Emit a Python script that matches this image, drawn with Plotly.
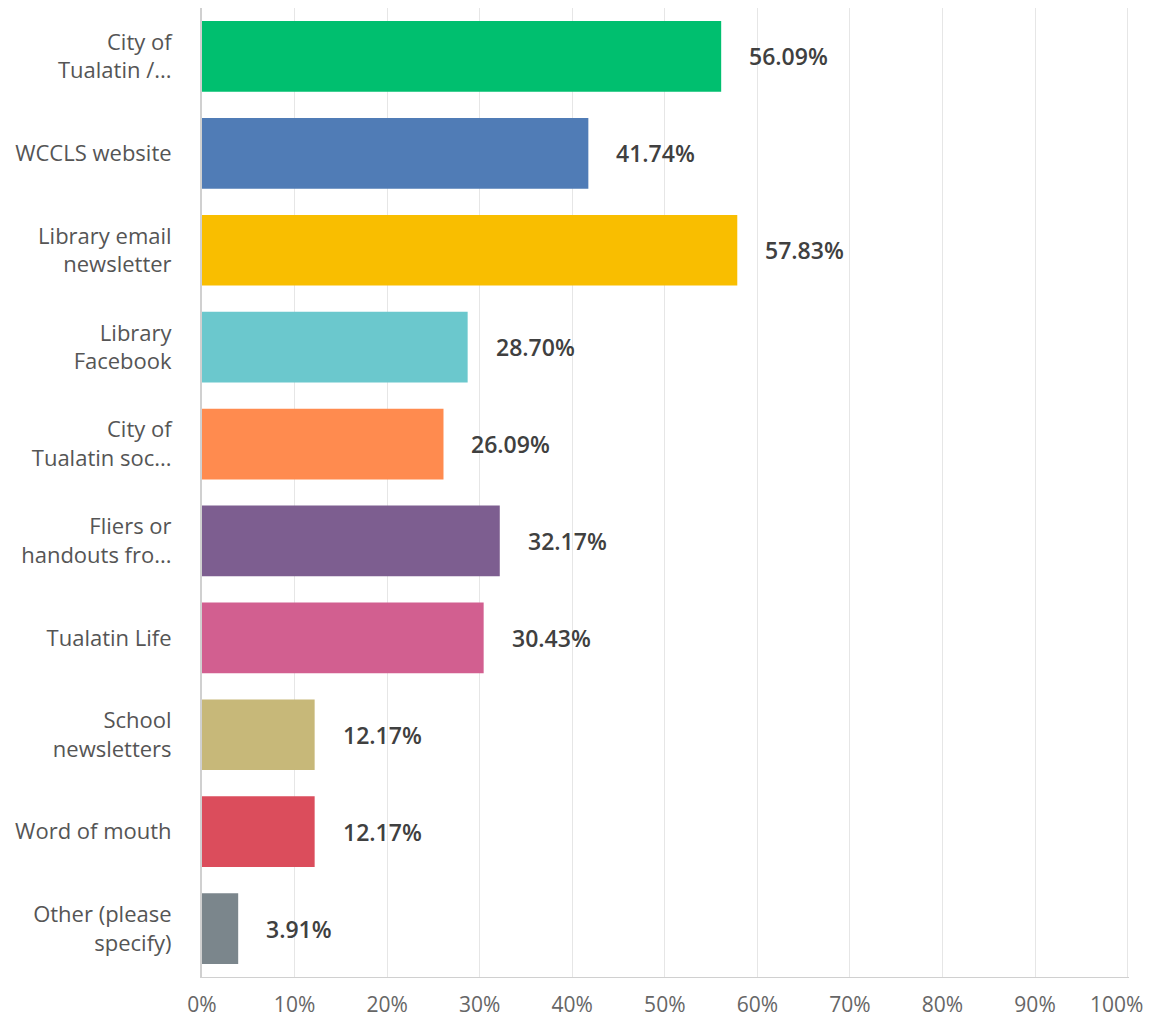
import plotly.graph_objects as go

categories = [
    "City of<br>Tualatin /...",
    "WCCLS website",
    "Library email<br>newsletter",
    "Library<br>Facebook",
    "City of<br>Tualatin soc...",
    "Fliers or<br>handouts fro...",
    "Tualatin Life",
    "School<br>newsletters",
    "Word of mouth",
    "Other (please<br>specify)",
]
values = [56.09, 41.74, 57.83, 28.70, 26.09, 32.17, 30.43, 12.17, 12.17, 3.91]
colors = ["#00BF6F", "#507CB6", "#F9BE00", "#6BC8CD", "#FF8B4F",
          "#7D5E90", "#D25F90", "#C7B879", "#DB4D5C", "#7B868C"]
tick_vals = [0, 10, 20, 30, 40, 50, 60, 70, 80, 90, 100]
tick_text = ["0%", "10%", "20%", "30%", "40%", "50%", "60%", "70%", "80%",
             "90%", "100%\u00a0\u00a0\u00a0\u00a0"]

fig = go.Figure()
fig.add_trace(go.Bar(
    y=categories, x=values, orientation="h",
    marker=dict(color=colors, line=dict(width=0)),
    hoverinfo="skip",
))

for c, v in zip(categories, values):
    fig.add_annotation(x=v, y=c, text=f"{v:.2f}%", showarrow=False,
                       xanchor="left", xshift=26,
                       font=dict(family="Open Sans", size=23, weight=600,
                                 color="#404040"))

fig.update_layout(
    width=1143, height=1013,
    margin=dict(l=194, r=22, t=0, b=44),
    paper_bgcolor="white", plot_bgcolor="white",
    bargap=0.27, showlegend=False,
    font=dict(family="Open Sans", size=22, color="#555555"),
)
fig.update_xaxes(range=[0, 100.15], tickvals=tick_vals, ticktext=tick_text,
                 showgrid=True, gridcolor="#e6e6e6", gridwidth=1,
                 zeroline=False, showline=True, linecolor="#d0d0d0",
                 ticks="", ticklabelstandoff=9, automargin=False,
                 ticklabeloverflow="allow",
                 tickfont=dict(size=21, color="#666666"))
fig.update_yaxes(autorange="reversed", showgrid=False, zeroline=False,
                 showline=True, linecolor="#d0d0d0", linewidth=2,
                 ticks="", ticklabelstandoff=24, automargin=False,
                 tickfont=dict(size=22, color="#555555"))

fig.write_html("out.html")
